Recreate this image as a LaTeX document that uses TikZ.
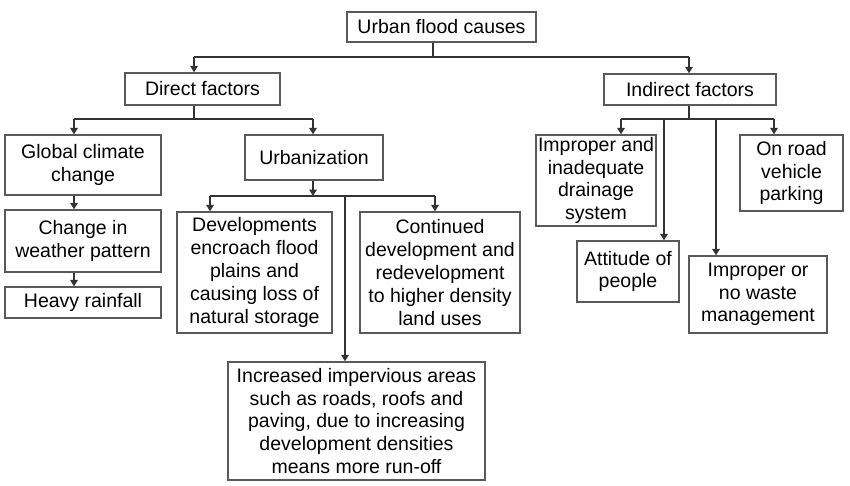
\documentclass[tikz,border=0pt]{standalone}
\usepackage{fontspec}
\setmainfont{Liberation Sans}
\usepackage{xcolor}
\usetikzlibrary{arrows.meta,positioning}

\begin{document}
\begin{tikzpicture}[
    x=1pt, y=-1pt,
    block/.style={draw=black!65, line width=1.3pt, align=center, inner sep=0pt,
      font=\fontsize{19.5}{22.8}\selectfont},
    line/.style={-{Triangle[length=6.5pt,width=7.5pt]}, draw=black!80, line width=2pt},
    link/.style={draw=black!80, line width=2pt}
  ]
    \useasboundingbox (0,0) rectangle (850,485);

    \node[block, minimum width=189, minimum height=30] (root) at (441.5,27) {Urban flood causes};
    \node[block, minimum width=155, minimum height=32] (direct) at (202.5,89) {Direct factors};
    \node[block, minimum width=172, minimum height=31] (indirect) at (690,89.5) {Indirect factors};

    \node[block, minimum width=156, minimum height=60] (climate) at (83,165) {Global climate\\change};
    \node[block, minimum width=156, minimum height=62] (weather) at (83,241) {Change in\\weather pattern};
    \node[block, minimum width=156, minimum height=31] (rain) at (83,302.5) {Heavy rainfall};

    \node[block, minimum width=138, minimum height=45] (urban) at (314,157.5) {Urbanization};
    \node[block, minimum width=155, minimum height=121] (encroach) at (254.5,272.5) {Developments\\encroach flood\\plains and\\causing loss of\\natural storage};
    \node[block, minimum width=160, minimum height=121] (redev) at (440,272.5) {Continued\\development and\\redevelopment\\to higher density\\land uses};
    \node[block, minimum width=257, minimum height=118] (imperv) at (356.5,421) {Increased impervious areas\\such as roads, roofs and\\paving, due to increasing\\development densities\\means more run-off};

    \node[block, minimum width=120, minimum height=91] (drainage) at (596,180.5) {Improper and\\inadequate\\drainage\\system};
    \node[block, minimum width=102, minimum height=61] (attitude) at (628,271.5) {Attitude of\\people};
    \node[block, minimum width=138, minimum height=77] (waste) at (758,294.5) {Improper or\\no waste\\management};
    \node[block, minimum width=103, minimum height=76] (parking) at (791.5,173) {On road\\vehicle\\parking};

    % junctions
    \coordinate (rootj) at (433,57);
    \coordinate (dirj) at (194,57);
    \coordinate (indj) at (689,57);
    \coordinate (dsplit) at (194,119);
    \coordinate (dleft) at (74,119);
    \coordinate (dright) at (313,119);
    \coordinate (usplit) at (313,196);
    \coordinate (uleft) at (210,196);
    \coordinate (umid) at (345,196);
    \coordinate (uright) at (435,196);
    \coordinate (isplit) at (689,119);
    \coordinate (ia) at (621,119);
    \coordinate (ib) at (664,119);
    \coordinate (ic) at (716,119);
    \coordinate (id) at (774,119);

    % root
    \draw[link] (root.south -| rootj) -- (rootj);
    \draw[link] (dirj) -- (indj);
    \draw[line] (dirj) -- (direct.north -| dirj);
    \draw[line] (indj) -- (indirect.north -| indj);

    % direct factors
    \draw[link] (direct.south -| dsplit) -- (dsplit);
    \draw[link] (dleft) -- (dright);
    \draw[line] (dleft) -- (climate.north -| dleft);
    \draw[line] (dright) -- (urban.north -| dright);
    \draw[line] (climate.south -| dleft) -- (weather.north -| dleft);
    \draw[line] (weather.south -| dleft) -- (rain.north -| dleft);

    % urbanization
    \draw[line] (urban.south -| usplit) -- (usplit);
    \draw[link] (uleft) -- (uright);
    \draw[line] (uleft) -- (encroach.north -| uleft);
    \draw[line] (uright) -- (redev.north -| uright);
    \draw[line] (umid) -- (imperv.north -| umid);

    % indirect factors
    \draw[link] (indirect.south -| isplit) -- (isplit);
    \draw[link] (ia) -- (id);
    \draw[line] (ia) -- (drainage.north -| ia);
    \draw[line] (ib) -- (attitude.north -| ib);
    \draw[line] (ic) -- (waste.north -| ic);
    \draw[line] (id) -- (parking.north -| id);
  \end{tikzpicture}
\end{document}
